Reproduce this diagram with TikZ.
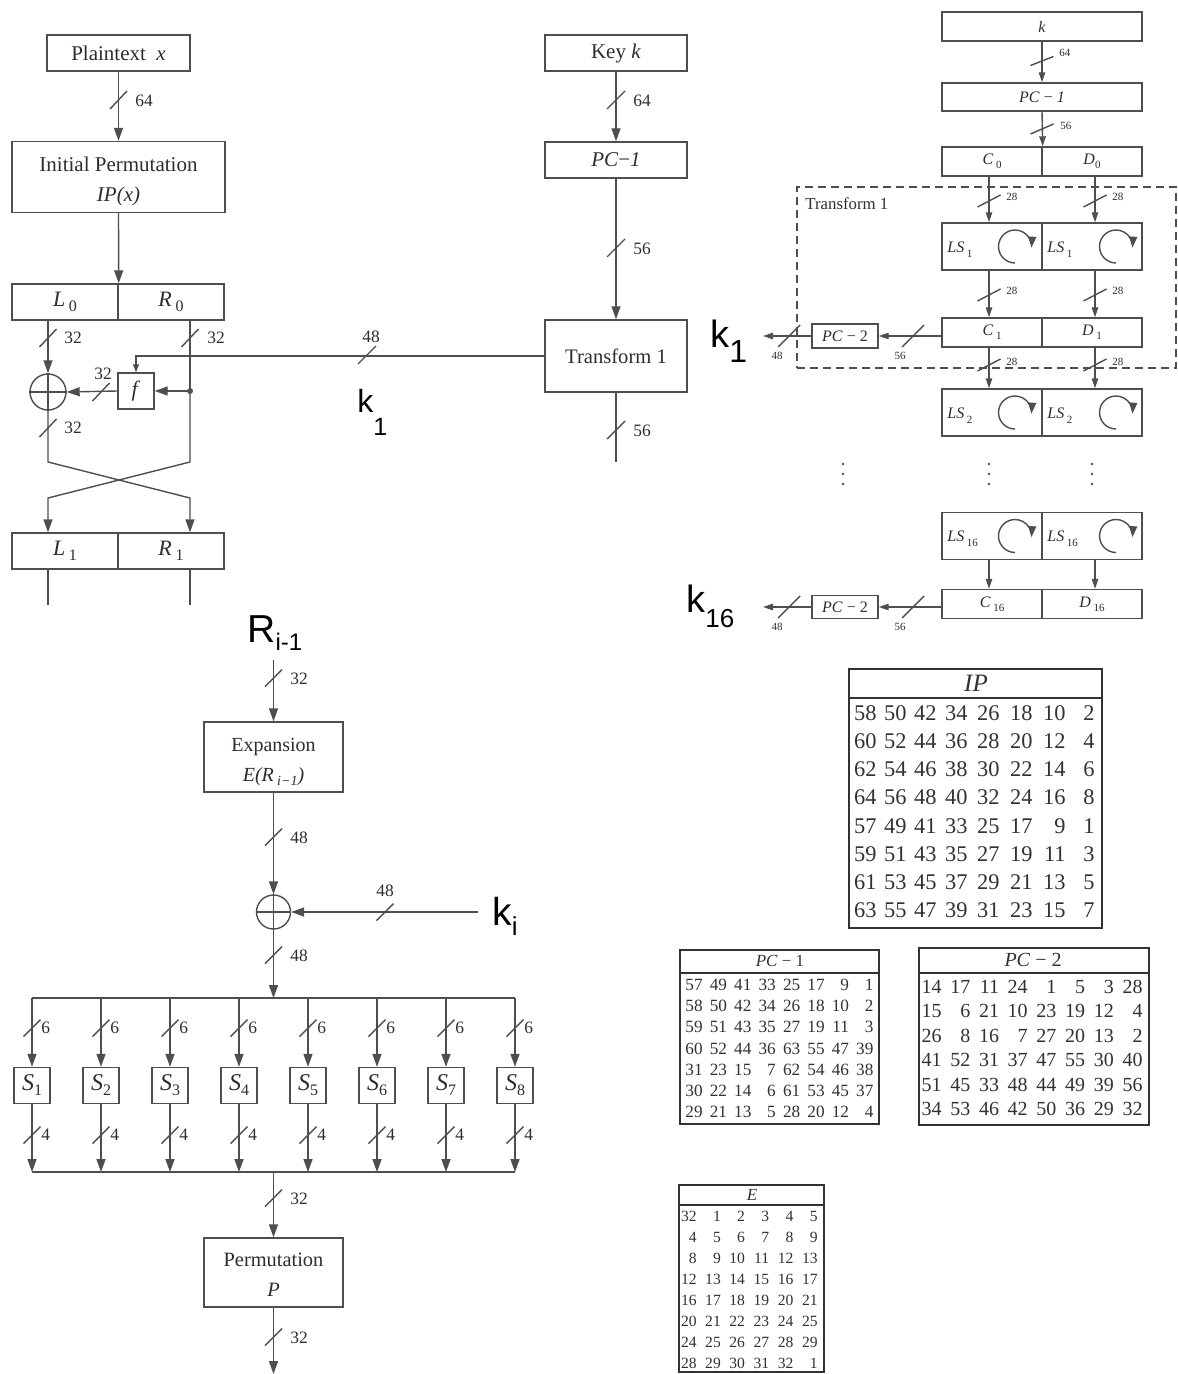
\documentclass[tikz,border=0pt]{standalone}
\usepackage{fontspec}
\setmainfont{Liberation Serif}
\setsansfont{Liberation Sans}
\usetikzlibrary{arrows.meta}
\definecolor{ln}{RGB}{78,78,78}
\definecolor{tx}{RGB}{45,45,45}
\definecolor{tb}{RGB}{50,50,50}
\newcommand{\fs}[1]{\fontsize{#1}{#1}\selectfont}
\newcommand{\lowsub}[3]{\raisebox{-#1}{\fontsize{#2}{#2}\selectfont #3}}
\newcommand{\mks}[4]{\draw[wire] ({#1-#3},{#2+#4}) -- ({#1+#3},{#2-#4});}
\newcounter{lbn}
\newcommand{\mkl}[4]{\stepcounter{lbn}\node[#1] (lb\arabic{lbn}) at (#2,#3) {#4};}
\begin{document}
\begin{tikzpicture}[x=0.5pt, y=-0.5pt,
 bx/.style={draw=ln, line width=0.7pt, inner sep=0pt, text=tx},
 wh/.style 2 args={minimum width=#1*0.5pt, minimum height=#2*0.5pt},
 wire/.style={draw=ln, line width=0.7pt},
 arr/.style={wire, -{Triangle[length=6.5pt,width=4.5pt]}},
 sarr/.style={wire, -{Triangle[length=5pt,width=3.2pt]}},
 tarr/.style={wire, -{Triangle[length=4pt,width=3pt]}},
 lab/.style={text=tx, font=\fs{8.7}, inner sep=0pt, anchor=west},
 slab/.style={text=tx, font=\fs{5.5}, inner sep=0pt, anchor=west},
 slabc/.style={text=tx, font=\fs{5.5}, inner sep=0pt},
 num/.style={text=tb, inner sep=0pt, anchor=base east},
 tab/.style={draw=tb, line width=1pt, inner sep=0pt},
 txt/.style={text=tx, inner sep=0pt, align=center},
 rotarr/.pic={\draw[wire, -{Triangle[length=5.5pt,width=4pt]}] (0,16.5) arc[start angle=90, end angle=364, radius=16.5];},
]
\fill[white] (0,0) rectangle (1177,1374);
\useasboundingbox (0,0) rectangle (1177,1374);

% ---------------- top left: round ----------------
\node[bx, wh={143}{36}, font=\fs{10.5}] (pt) at (118.5,53) {Plaintext\enspace\textit{x}};
\node[bx, wh={213}{71}] (ip) at (118.5,177) {};
\node[txt, font=\fontsize{10.5}{15}\selectfont] (iptxt) at (118.5,181) {Initial Permutation\\\textit{IP(x)}};
\node[bx, wh={106}{36}, font=\fs{11}] (l0) at (65,302) {\textit{L}\,\lowsub{2.5pt}{8}{0}};
\node[bx, wh={106}{36}, font=\fs{11}] (r0) at (171,302) {\textit{R}\,\lowsub{2.5pt}{8}{0}};
\draw[arr] (pt) -- (ip);
\mks{118.5}{100}{8.5}{9} \mkl{lab}{135}{101}{64}
\draw[arr] (ip.south) -- (l0.north east);

\node[draw=ln, line width=0.7pt, circle, minimum size=18pt, inner sep=0pt] (xor) at (48,392) {};
\draw[wire] (xor.north) -- (xor.south) (xor.west) -- (xor.east);
\draw[arr] (l0.south -| xor) -- (xor.north);
\mks{48}{338}{8.5}{9} \mkl{lab}{64}{338}{32}
\node[bx, wh={36}{36}, font=\fs{11}] (f) at (136,391) {\textit{f}};
\coordinate (dot) at (190,391);
\draw[wire] (r0.south -| dot) -- (dot);
\fill[ln] (dot) circle[radius=3];
\mks{190}{338}{8.5}{9} \mkl{lab}{207}{338}{32}
\draw[arr] (dot) -- (f.east);
\draw[arr] (f.west) -- (xor.east);
\mks{101}{392}{8.5}{9} \mkl{lab, anchor=center}{103}{374}{32}
\mks{48}{428}{8.5}{9} \mkl{lab}{64}{428}{32}

\node[bx, wh={106}{36}, font=\fs{11}] (l1) at (65,551) {\textit{L}\,\lowsub{2.5pt}{8}{1}};
\node[bx, wh={106}{36}, font=\fs{11}] (r1) at (171,551) {\textit{R}\,\lowsub{2.5pt}{8}{1}};
\coordinate (xa) at (48,462); \coordinate (xb) at (190,462);
\coordinate (xc) at (48,498); \coordinate (xd) at (190,498);
\draw[arr] (xor.south) -- (xa) -- (xd) -- (r1.north -| xd);
\draw[arr] (dot) -- (xb) -- (xc) -- (l1.north -| xc);
\coordinate (l1e) at (48,605); \coordinate (r1e) at (190,605);
\draw[wire] (l1.south -| l1e) -- (l1e);
\draw[wire] (r1.south -| r1e) -- (r1e);

% ---------------- middle: key ----------------
\node[bx, wh={142}{36}, font=\fs{10.5}] (key) at (616,53) {Key \textit{k}};
\node[bx, wh={142}{36}, font=\fs{10.5}] (pc1) at (616,160) {\textit{PC}−\textit{1}};
\node[bx, wh={142}{72}, font=\fs{10.3}] (t1) at (616,356) {Transform 1};
\draw[arr] (key) -- (pc1);
\mks{616}{100}{9}{9} \mkl{lab}{633}{101}{64}
\draw[arr] (pc1) -- (t1);
\mks{616}{248}{9}{9} \mkl{lab}{633}{249}{56}
\coordinate (t1e) at (616,462);
\draw[wire] (t1.south) -- (t1e);
\mks{616}{430}{9}{9} \mkl{lab}{633}{431}{56}
\draw[tarr] (t1.west) -- (t1.west -| f.north) -- (f.north);
\mks{367}{355}{9}{9} \mkl{lab, anchor=center}{371}{337}{48}
\node[font=\fontsize{16}{16}\selectfont\sffamily, anchor=base west, inner sep=0pt] (k1m) at (357,412) {k\lowsub{11.5pt}{12.5}{1}};

% ---------------- right: key schedule ----------------
\node[draw=ln, dashed, dash pattern=on 4pt off 2.5pt, line width=0.6pt, wh={379}{181}, inner sep=0pt] (tbox) at (986.5,277.5) {};
\node[text=tx, font=\fs{8.4}, anchor=west, inner sep=0pt] (tlab) at (805,204) {Transform 1};

\node[bx, wh={200}{29}, font=\fs{8}] (rk) at (1042,26.5) {\textit{k}};
\node[bx, wh={200}{28}, font=\fs{8}] (rpc1) at (1042,97) {\textit{PC} − \textit{1}};
\draw[sarr] (rk) -- (rpc1);
\mks{1042}{61}{11.5}{4.5} \mkl{slab}{1059}{53}{64}
\node[bx, wh={100}{29}, font=\fs{8}] (c0) at (992,161.5) {\textit{C}\,\lowsub{2pt}{5.5}{0}};
\node[bx, wh={100}{29}, font=\fs{8}] (d0) at (1092,161.5) {\textit{D}\lowsub{2pt}{5.5}{0}};
\draw[sarr] (rpc1.south) -- (c0.north east);
\mks{1042}{129}{11.5}{5} \mkl{slab}{1060}{126}{56}
\coordinate (cc) at (989,0); \coordinate (cd) at (1095,0);

\foreach \nm/\yy/\sub in {ls1/246.5/1, ls2/412.5/2, ls16/536/16} {
  \node[bx, wh={100}{47}] (\nm c) at (992,\yy) {};
  \node[bx, wh={100}{47}] (\nm d) at (1092,\yy) {};
  \node[anchor=west, font=\fs{8}, text=tx, inner sep=0pt] (\nm ct) at (947,\yy+3) {\textit{LS}\,\lowsub{2.5pt}{5.5}{\sub}};
  \node[anchor=west, font=\fs{8}, text=tx, inner sep=0pt] (\nm dt) at (1047,\yy+3) {\textit{LS}\,\lowsub{2.5pt}{5.5}{\sub}};
  \pic (\nm cr) at (1015,\yy) {rotarr};
  \pic (\nm dr) at (1116,\yy) {rotarr};
}
\node[bx, wh={100}{29}, font=\fs{8}] (c1) at (992,332.5) {\textit{C}\,\lowsub{2pt}{5.5}{1}};
\node[bx, wh={100}{29}, font=\fs{8}] (d1) at (1092,332.5) {\textit{D}\,\lowsub{2pt}{5.5}{1}};
\node[bx, wh={100}{29}, font=\fs{8}] (c16) at (992,604) {\textit{C}\,\lowsub{2pt}{5.5}{16}};
\node[bx, wh={100}{29}, font=\fs{8}] (d16) at (1092,604) {\textit{D}\,\lowsub{2pt}{5.5}{16}};

\draw[sarr] (c0.south -| cc) -- (ls1c.north -| cc);
\draw[sarr] (d0.south -| cd) -- (ls1d.north -| cd);
\mks{989}{201}{11.5}{6} \mkl{slab}{1006}{197}{28}
\mks{1095}{201}{11.5}{6} \mkl{slab}{1112}{197}{28}
\draw[sarr] (ls1c.south -| cc) -- (c1.north -| cc);
\draw[sarr] (ls1d.south -| cd) -- (d1.north -| cd);
\mks{989}{295}{11.5}{6} \mkl{slab}{1006}{291}{28}
\mks{1095}{295}{11.5}{6} \mkl{slab}{1112}{291}{28}
\draw[sarr] (c1.south -| cc) -- (ls2c.north -| cc);
\draw[sarr] (d1.south -| cd) -- (ls2d.north -| cd);
\mks{989}{365}{11.5}{6} \mkl{slab}{1006}{362}{28}
\mks{1095}{365}{11.5}{6} \mkl{slab}{1112}{362}{28}
\draw[sarr] (ls16c.south -| cc) -- (c16.north -| cc);
\draw[sarr] (ls16d.south -| cd) -- (d16.north -| cd);
\foreach \xx in {843,989,1092} { \foreach \yy in {464,474,484} { \fill[ln] (\xx,\yy) circle[radius=1.3]; } }

\node[bx, wh={66}{24}, font=\fs{8}] (pc2a) at (845,336) {\textit{PC} − 2};
\coordinate (k1o) at (763,336);
\draw[sarr] (c1.west |- pc2a) -- (pc2a.east);
\draw[sarr] (pc2a.west) -- (k1o);
\mks{913}{336}{11}{11} \mkl{slabc}{900}{356}{56}
\mks{789}{336}{11}{11} \mkl{slabc}{777}{356}{48}
\node[bx, wh={66}{23}, font=\fs{8}] (pc2b) at (845,607) {\textit{PC} − 2};
\coordinate (k16o) at (763,607);
\draw[sarr] (c16.west |- pc2b) -- (pc2b.east);
\draw[sarr] (pc2b.west) -- (k16o);
\mks{913}{607}{11}{11} \mkl{slabc}{900}{627}{56}
\mks{789}{607}{11}{11} \mkl{slabc}{777}{627}{48}
\node[font=\fontsize{19}{19}\selectfont\sffamily, anchor=base west, inner sep=0pt] (k1r) at (710,347) {k\lowsub{7.5pt}{16}{1}};
\node[font=\fontsize{19}{19}\selectfont\sffamily, anchor=base west, inner sep=0pt] (k16r) at (686,612) {k\lowsub{7.5pt}{13}{16}};

% ---------------- bottom left: f function ----------------
\node[font=\fontsize{19.5}{19.5}\selectfont\sffamily, anchor=base west, inner sep=0pt] (rl) at (247,642) {R\lowsub{4pt}{12}{i-1}};
\coordinate (rin) at (273.5,660);
\node[bx, wh={139}{70}] (exp) at (273.5,757) {};
\node[txt, font=\fontsize{10}{15}\selectfont] (exptxt) at (273.5,762) {Expansion\\\textit{E(R}\,\lowsub{2pt}{7}{\textit{i−1}}\textit{)}};
\draw[arr] (rin) -- (exp.north);
\mks{273.5}{678}{8.5}{8.5} \mkl{lab}{290}{679}{32}
\node[draw=ln, line width=0.7pt, circle, minimum size=17pt, inner sep=0pt] (xor2) at (273.5,912) {};
\draw[wire] (xor2.north) -- (xor2.south) (xor2.west) -- (xor2.east);
\draw[arr] (exp.south) -- (xor2.north);
\mks{273.5}{837}{8.5}{8.5} \mkl{lab}{290}{838}{48}
\coordinate (kin) at (478,912);
\draw[arr] (kin) -- (xor2.east);
\mks{385}{912}{8.5}{8.5} \mkl{lab, anchor=center}{385}{891}{48}
\node[font=\fontsize{19.5}{19.5}\selectfont\sffamily, anchor=base west, inner sep=0pt] (kil) at (492,925) {k\lowsub{5pt}{13}{i}};
\coordinate (bt) at (273.5,998);
\draw[arr] (xor2.south) -- (bt);
\mks{273.5}{955}{8.5}{8.5} \mkl{lab}{290}{956}{48}
\coordinate (bbl) at (32,998); \coordinate (bbr) at (515,998);
\draw[wire] (bbl) -- (bbr);
\coordinate (bb) at (273.5,1172);
\coordinate (bbl2) at (32,1172); \coordinate (bbr2) at (515,1172);
\draw[wire] (bbl2) -- (bbr2);
\foreach \i in {1,...,8} {
  \pgfmathsetmacro{\sx}{32+69*(\i-1)}
  \node[bx, wh={36}{36}, font=\fs{12}] (s\i) at (\sx,1085.5) {\textit{S}\lowsub{2.5pt}{8}{\i}};
  \draw[arr] (s\i.north |- bt) -- (s\i.north);
  \draw[arr] (s\i.south) -- (s\i.south |- bb);
  \mks{\sx}{1028}{8.5}{8.5}
  \mkl{lab}{\sx+9}{1028}{6}
  \mks{\sx}{1135}{8.5}{8.5}
  \mkl{lab}{\sx+9}{1135}{4}
}
\node[bx, wh={139}{69}] (perm) at (273.5,1272.5) {};
\node[txt, font=\fontsize{10.2}{15}\selectfont] (permtxt) at (273.5,1275) {Permutation\\\textit{P}};
\draw[arr] (bb) -- (perm.north);
\mks{273.5}{1198}{8.5}{8.5} \mkl{lab}{290}{1199}{32}
\coordinate (pout) at (273.5,1374);
\draw[arr] (perm.south) -- (pout);
\mks{273.5}{1337}{8.5}{8.5} \mkl{lab}{290}{1338}{32}

% ---------------- tables ----------------
% IP
\node[tab, wh={253}{259}] (iptab) at (975.5,798.5) {};
\draw[tb, line width=1.4pt] (849,698) -- (1102,698);
\node[text=tb, font=\fs{12.5}, inner sep=0pt] (iph) at (976,683) {\textit{IP}};
\foreach \row [count=\r] in {{58,50,42,34,26,18,10,2},{60,52,44,36,28,20,12,4},{62,54,46,38,30,22,14,6},{64,56,48,40,32,24,16,8},{57,49,41,33,25,17,9,1},{59,51,43,35,27,19,11,3},{61,53,45,37,29,21,13,5},{63,55,47,39,31,23,15,7}} {
  \foreach \v [count=\c] in \row {
    \pgfmathsetmacro{\ipx}{{877,907,937,968,1000,1033,1066,1095}[\c-1]}
    \node[num, font=\fs{11.2}] (ip-\r-\c) at (\ipx,{720.5+28.14*(\r-1)}) {\v};
  }
}
% PC-1
\node[tab, wh={199}{174}] (pc1tab) at (779.5,1037) {};
\draw[tb, line width=1.2pt] (680,973) -- (879,973);
\node[text=tb, font=\fs{8.5}, inner sep=0pt] (pc1h) at (780,961) {\textit{PC} − 1};
\foreach \row [count=\r] in {{57,49,41,33,25,17,9,1},{58,50,42,34,26,18,10,2},{59,51,43,35,27,19,11,3},{60,52,44,36,63,55,47,39},{31,23,15,7,62,54,46,38},{30,22,14,6,61,53,45,37},{29,21,13,5,28,20,12,4}} {
  \foreach \v [count=\c] in \row {
    \node[num, font=\fs{8.6}] (pa-\r-\c) at ({703+24.4*(\c-1)},{990.5+21.17*(\r-1)}) {\v};
  }
}
% PC-2
\node[tab, wh={230}{177}] (pc2tab) at (1034,1036.5) {};
\draw[tb, line width=1.2pt] (919,973) -- (1149,973);
\node[text=tb, font=\fs{10}, inner sep=0pt] (pc2h) at (1033,960) {\textit{PC} − 2};
\foreach \row [count=\r] in {{14,17,11,24,1,5,3,28},{15,6,21,10,23,19,12,4},{26,8,16,7,27,20,13,2},{41,52,31,37,47,55,30,40},{51,45,33,48,44,49,39,56},{34,53,46,42,50,36,29,32}} {
  \foreach \v [count=\c] in \row {
    \node[num, font=\fs{10}] (pb-\r-\c) at ({942+28.7*(\c-1)},{993.5+24.4*(\r-1)}) {\v};
  }
}
% E
\node[tab, wh={145}{187}] (etab) at (751.5,1278.5) {};
\draw[tb, line width=1.2pt] (679,1205) -- (824,1205);
\node[text=tb, font=\fs{8.5}, inner sep=0pt] (eh) at (752,1195) {\textit{E}};
\foreach \row [count=\r] in {{32,1,2,3,4,5},{4,5,6,7,8,9},{8,9,10,11,12,13},{12,13,14,15,16,17},{16,17,18,19,20,21},{20,21,22,23,24,25},{24,25,26,27,28,29},{28,29,30,31,32,1}} {
  \foreach \v [count=\c] in \row {
    \node[num, font=\fs{7.8}] (e-\r-\c) at ({697+24.2*(\c-1)},{1221+21.0*(\r-1)}) {\v};
  }
}
\end{tikzpicture}
\end{document}
